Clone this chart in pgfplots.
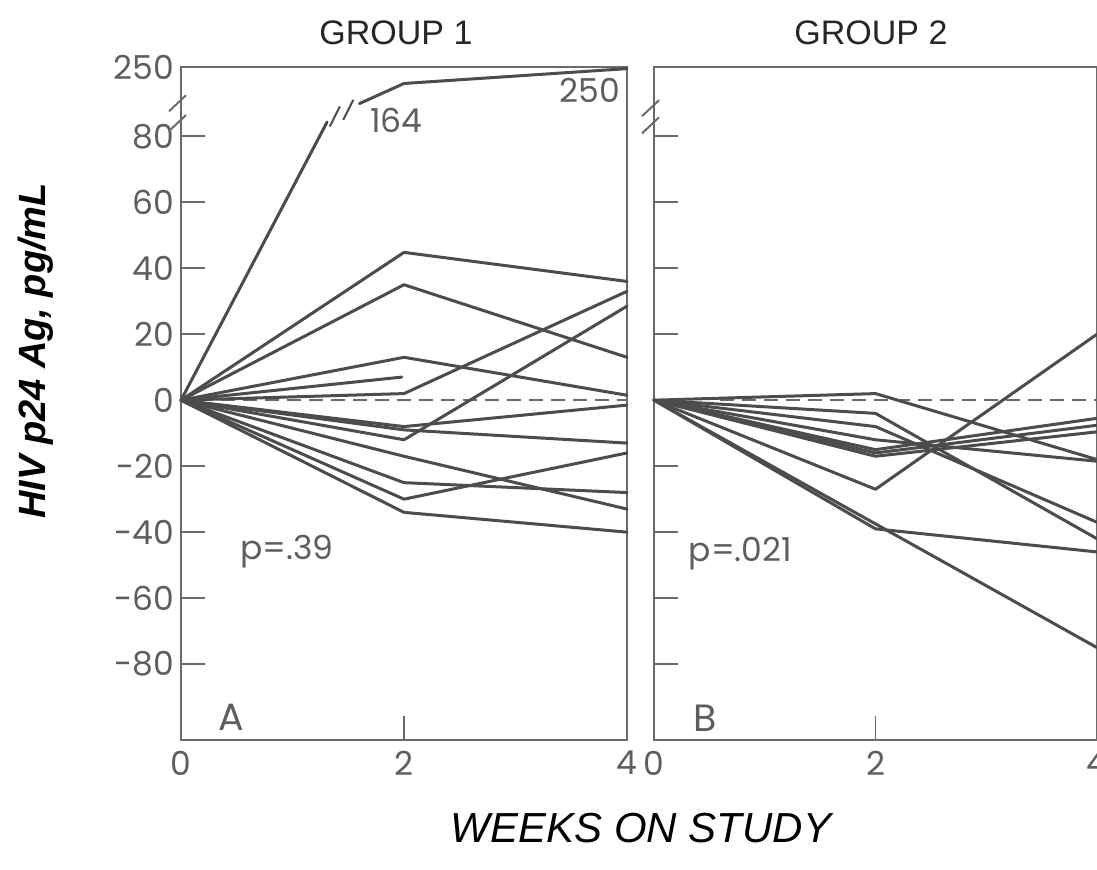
\documentclass[border=0pt]{standalone}
\usepackage{fontspec}
\usepackage{pgfplots}
\pgfplotsset{compat=1.18}
\setmainfont{Poppins}
\newfontfamily\lib{Liberation Sans}
\definecolor{ln}{HTML}{4C4C4C}
\definecolor{fr}{HTML}{6A6A6A}
\definecolor{tx}{HTML}{5E5E5E}
\tikzset{
  gl/.style={ln, line width=1.5pt, line join=round, line cap=round},
  zl/.style={fr, line width=1pt, dash pattern=on 7pt off 4pt},
  lab/.style={text=tx, font=\fontsize{16.5}{16.5}\selectfont},
}
\begin{document}
\begin{tikzpicture}
\useasboundingbox (0,0) rectangle (548.5pt,435pt);
\pgfplotsset{
  panel/.style={
    scale only axis, anchor=south west, height=336.5pt,
    xmin=0, xmax=4, ymin=-103, ymax=101,
    axis line style={fr, line width=1pt},
    every tick/.style={fr, line width=0.9pt},
    tick align=inside, major tick length=12pt,
    ytick pos=left, xtick pos=bottom,
    xtick={0,2,4}, xticklabels={0,2,4},
    tick label style={font=\fontsize{16.5}{16.5}\selectfont, text=tx},
    xticklabel style={yshift=-2pt},
    clip=false,
  },
}
% ---------------- Panel A ----------------
\begin{axis}[panel, at={(90.5pt,65pt)}, width=223pt,
  ytick={-80,-60,-40,-20,0,20,40,60,80,101},
  yticklabels={-80,-60,-40,-20,0,20,40,60,80,250}]
\addplot[zl] coordinates {(0.36,0) (4,0)};
\addplot[gl] coordinates {(0,0) (1.31,84.3)};
\addplot[gl] coordinates {(1.6,89.9) (2,96) (4,100.5)};
\addplot[gl] coordinates {(0,0) (2,44.8) (4,36)};
\addplot[gl] coordinates {(0,0) (2,35) (4,13)};
\addplot[gl] coordinates {(0,0) (2,13) (4,1.5)};
\addplot[gl] coordinates {(0,0) (1.98,7)};
\addplot[gl] coordinates {(0,0) (2,2) (4,33)};
\addplot[gl] coordinates {(0,0) (2,-12) (4,28.5)};
\addplot[gl] coordinates {(0,0) (2,-8) (4,-1.5)};
\addplot[gl] coordinates {(0,0) (2,-9) (4,-13)};
\addplot[gl] coordinates {(0,0) (2,-17) (4,-33)};
\addplot[gl] coordinates {(0,0) (2,-25) (4,-28)};
\addplot[gl] coordinates {(0,0) (2,-30) (4,-16)};
\addplot[gl] coordinates {(0,0) (2,-34) (4,-40)};
% break marks on the data line
\draw[ln, line width=1pt] ([xshift=-2.5pt,yshift=-5pt]axis cs:1.38,86) -- ([xshift=2.5pt,yshift=5pt]axis cs:1.38,86);
\draw[ln, line width=1pt] ([xshift=-2.5pt,yshift=-5pt]axis cs:1.50,88) -- ([xshift=2.5pt,yshift=5pt]axis cs:1.50,88);
% break marks on the y axis
\draw[fr, line width=1pt] ([xshift=-6pt,yshift=-4pt]axis cs:0,84) -- ([xshift=2.5pt,yshift=4pt]axis cs:0,84);
\draw[fr, line width=1pt] ([xshift=-6pt,yshift=-4pt]axis cs:0,90) -- ([xshift=2.5pt,yshift=4pt]axis cs:0,90);
\node[lab] at (axis cs:1.93,84.8) {164};
\node[lab] at (axis cs:3.67,93.9) {250};
\node[lab] at (axis cs:0.95,-45.8) {p=.39};
\node[text=tx, font=\fontsize{19}{19}\selectfont] at (axis cs:0.45,-96) {A};
\end{axis}
% ---------------- Panel B ----------------
\begin{axis}[panel, at={(327pt,65pt)}, width=221.5pt,
  ytick={-80,-60,-40,-20,0,20,40,60,80}, yticklabels={}]
\addplot[zl] coordinates {(0.6,0) (4,0)};
\addplot[gl] coordinates {(0,0) (2,2) (4,-18)};
\addplot[gl] coordinates {(0,0) (2,-4) (4,-42)};
\addplot[gl] coordinates {(0,0) (2,-27) (4,20)};
\addplot[gl] coordinates {(0,0) (2,-8) (4,-37)};
\addplot[gl] coordinates {(0,0) (2,-12) (4,-18.5)};
\addplot[gl] coordinates {(0,0) (2,-15) (4,-5.5)};
\addplot[gl] coordinates {(0,0) (2,-16) (4,-7.6)};
\addplot[gl] coordinates {(0,0) (2,-17) (4,-9.6)};
\addplot[gl] coordinates {(0,0) (2,-39) (4,-46)};
\addplot[gl] coordinates {(0,0) (2,-37.5) (4,-75)};
\draw[fr, line width=1pt] ([xshift=-6pt,yshift=-4pt]axis cs:0,83.3) -- ([xshift=2.5pt,yshift=4pt]axis cs:0,83.3);
\draw[fr, line width=1pt] ([xshift=-6pt,yshift=-4pt]axis cs:0,88.5) -- ([xshift=2.5pt,yshift=4pt]axis cs:0,88.5);
\node[lab] at (axis cs:0.78,-46.4) {p=.021};
\node[text=tx, font=\fontsize{19}{19}\selectfont] at (axis cs:0.46,-96.4) {B};
\end{axis}
% titles and axis labels
\node[font=\lib\fontsize{17}{17}\selectfont, text=black!85] at (198pt,418.5pt) {GROUP 1};
\node[font=\lib\fontsize{17}{17}\selectfont, text=black!85] at (435.5pt,418.5pt) {GROUP 2};
\node[font=\lib\itshape\fontsize{21}{21}\selectfont, text=black] at (320.5pt,21pt) {WEEKS ON STUDY};
\node[font=\lib\bfseries\itshape\fontsize{19}{19}\selectfont, text=black, rotate=90] at (18pt,259.5pt) {HIV p24 Ag, pg/mL};
\end{tikzpicture}
\end{document}
